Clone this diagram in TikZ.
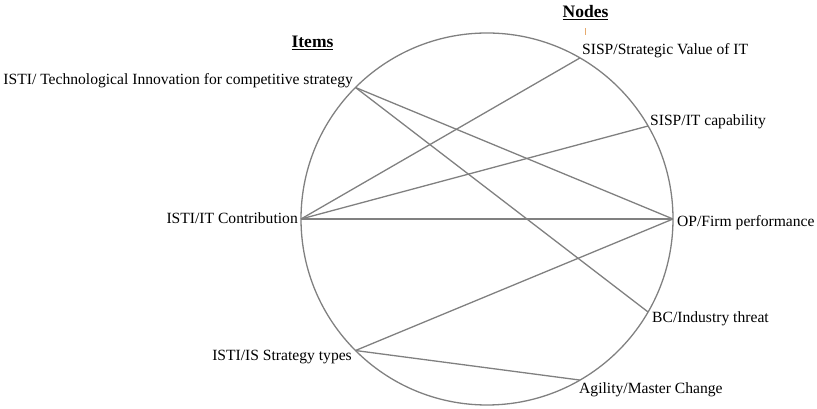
\documentclass[tikz,border=0pt]{standalone}
\usepackage{fontspec}
\setmainfont{Liberation Serif}
\usetikzlibrary{calc}
\begin{document}
\begin{tikzpicture}[x=1pt,y=1pt,
  lbl/.style={inner sep=0pt,font=\fontsize{15.6}{18}\selectfont},
  hdr/.style={inner sep=0pt,font=\fontsize{17.5}{20}\selectfont\bfseries},
  link/.style={draw=black!50,line width=1.3pt}]
\useasboundingbox (0,0) rectangle (817,409);
\coordinate (c) at (487,190);
\draw[link] (c) circle (186);
\coordinate (ti) at ($(c)+(135:186)$);
\coordinate (itc) at ($(c)+(180:186)$);
\coordinate (ist) at ($(c)+(225:186)$);
\coordinate (sv) at ($(c)+(60:186)$);
\coordinate (cap) at ($(c)+(30:186)$);
\coordinate (op) at ($(c)+(0:186)$);
\coordinate (bc) at ($(c)+(-30:186)$);
\coordinate (ag) at ($(c)+(-60:186)$);
\draw[link] (ti) -- (op);
\draw[link] (ti) -- (bc);
\draw[link] (itc) -- (sv);
\draw[link] (itc) -- (cap);
\draw[link] (itc) -- (op);
\draw[link] (ist) -- (op);
\draw[link] (ist) -- (ag);
\node[lbl,anchor=base east] (lti) at (353,324) {ISTI/ Technological Innovation for competitive strategy};
\node[lbl,anchor=base east] (litc) at (298,185) {ISTI/IT Contribution};
\node[lbl,anchor=base east] (list) at (352,48) {ISTI/IS Strategy types};
\node[lbl,anchor=base west] (lsv) at (582,354) {SISP/Strategic Value of IT};
\node[lbl,anchor=base west] (lcap) at (650,283) {SISP/IT capability};
\node[lbl,anchor=base west] (lop) at (677,182) {OP/Firm performance};
\node[lbl,anchor=base west] (lbc) at (652,86) {BC/Industry threat};
\node[lbl,anchor=base west] (lag) at (579,15) {Agility/Master Change};
\node[hdr,anchor=base] (nodes) at (585.5,391) {\underline{Nodes}};
\node[hdr,anchor=base] (items) at (312.5,361) {\underline{Items}};
\coordinate (tk1) at (585,381);
\coordinate (tk2) at (585,374);
\draw[draw={rgb,255:red,230;green,170;blue,110},line width=0.8pt] (tk1) -- (tk2);
\end{tikzpicture}
\end{document}
